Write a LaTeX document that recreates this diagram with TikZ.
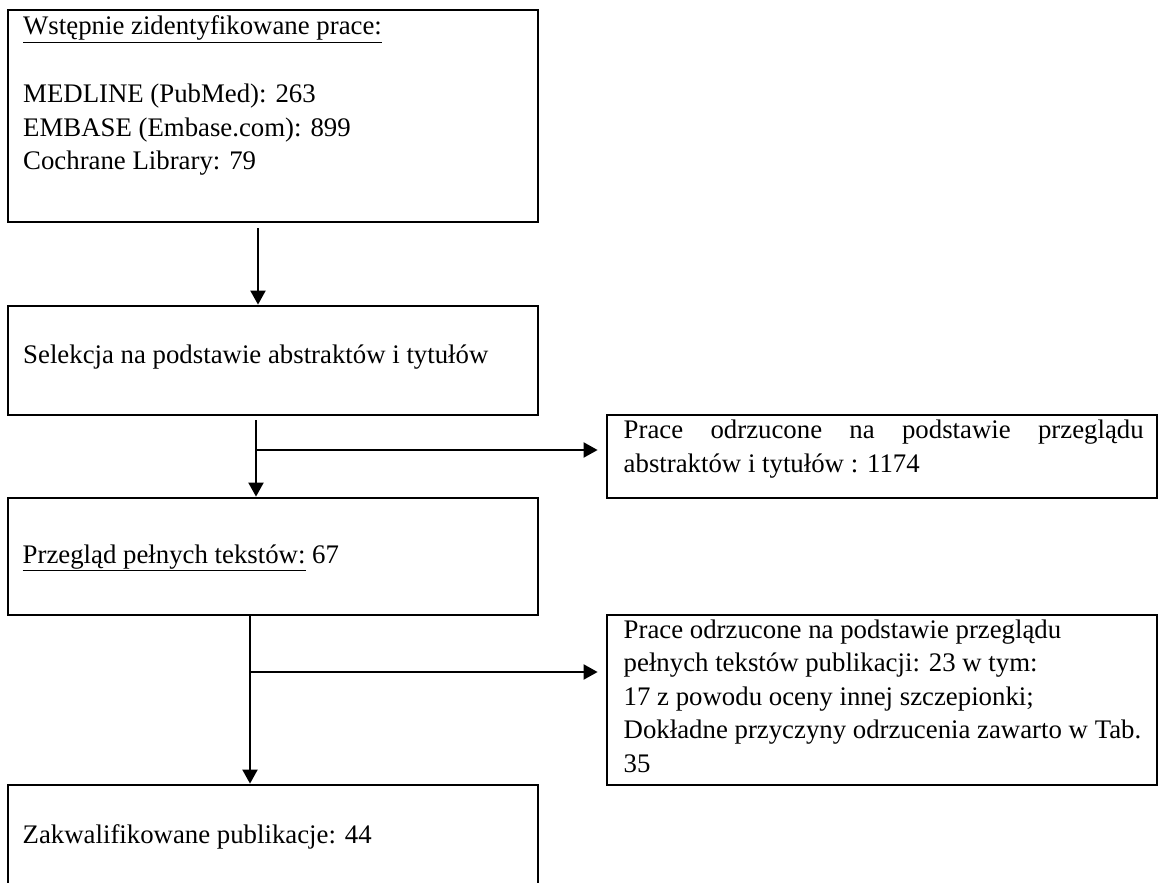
\documentclass[tikz,border=0pt]{standalone}
\usepackage{fontspec}
\setmainfont{Liberation Serif}
\usetikzlibrary{arrows.meta}
\tikzset{
  box/.style={draw, line width=2.8pt, rectangle, inner sep=0pt},
  txt/.style={anchor=base west, inner sep=0pt, font=\fontsize{26.8}{33.5}\selectfont},
  arr/.style={line width=2pt, -{Triangle[length=14pt,width=15pt]}}
}
\begin{document}
\begin{tikzpicture}[x=1pt,y=-1pt]
\useasboundingbox (0,0) rectangle (1159,883);
% boxes
\node[box, minimum width=530pt, minimum height=212pt] (b1) at (273,116) {};
\node[box, minimum width=530pt, minimum height=109pt] (b2) at (273,360.5) {};
\node[box, minimum width=550pt, minimum height=83pt] (r1) at (882,456.5) {};
\node[box, minimum width=530pt, minimum height=117pt] (b4) at (273,556.5) {};
\node[box, minimum width=550pt, minimum height=170pt] (r2) at (882,700) {};
\node[box, minimum width=530pt, minimum height=120pt] (b6) at (273,845) {};
% texts
\node[txt] (t1) at (23,35) {\underline{Wstępnie zidentyfikowane prace:}};
\node[txt] (t2) at (23,102) {MEDLINE (PubMed): 263};
\node[txt] (t3) at (23,136) {EMBASE (Embase.com): 899};
\node[txt] (t4) at (23,169.5) {Cochrane Library: 79};
\node[txt] (t5) at (23,363) {Selekcja na podstawie abstraktów i tytułów};
\node[txt] (t6) at (623.5,438) {\makebox[520pt][s]{Prace odrzucone na podstawie przeglądu}};
\node[txt] (t7) at (623.5,472) {abstraktów i tytułów : 1174};
\node[txt] (t8) at (22.5,563) {\underline{Przegląd pełnych tekstów:} 67};
\node[txt] (t9) at (623.5,638) {Prace odrzucone na podstawie przeglądu};
\node[txt] (t10) at (623.5,671.5) {pełnych tekstów publikacji: 23 w tym:};
\node[txt] (t11) at (623.5,705) {17 z powodu oceny innej szczepionki;};
\node[txt] (t12) at (623.5,738.5) {Dokładne przyczyny odrzucenia zawarto w Tab.};
\node[txt] (t13) at (623.5,772) {35};
\node[txt] (t14) at (22.5,843) {Zakwalifikowane publikacje: 44};
% connectors
\coordinate (s1) at (258,228);
\draw[arr] (s1) -- (s1 |- b2.north);
\coordinate (s2) at (256,420);
\coordinate (j1) at (256,450);
\draw[arr] (s2) -- (s2 |- b4.north);
\draw[arr, shorten >=8pt] (j1) -- (j1 -| r1.west);
\coordinate (s3) at (250,615);
\coordinate (j2) at (250,672);
\draw[arr] (s3) -- (s3 |- b6.north);
\draw[arr, shorten >=8pt] (j2) -- (j2 -| r2.west);
\end{tikzpicture}
\end{document}
